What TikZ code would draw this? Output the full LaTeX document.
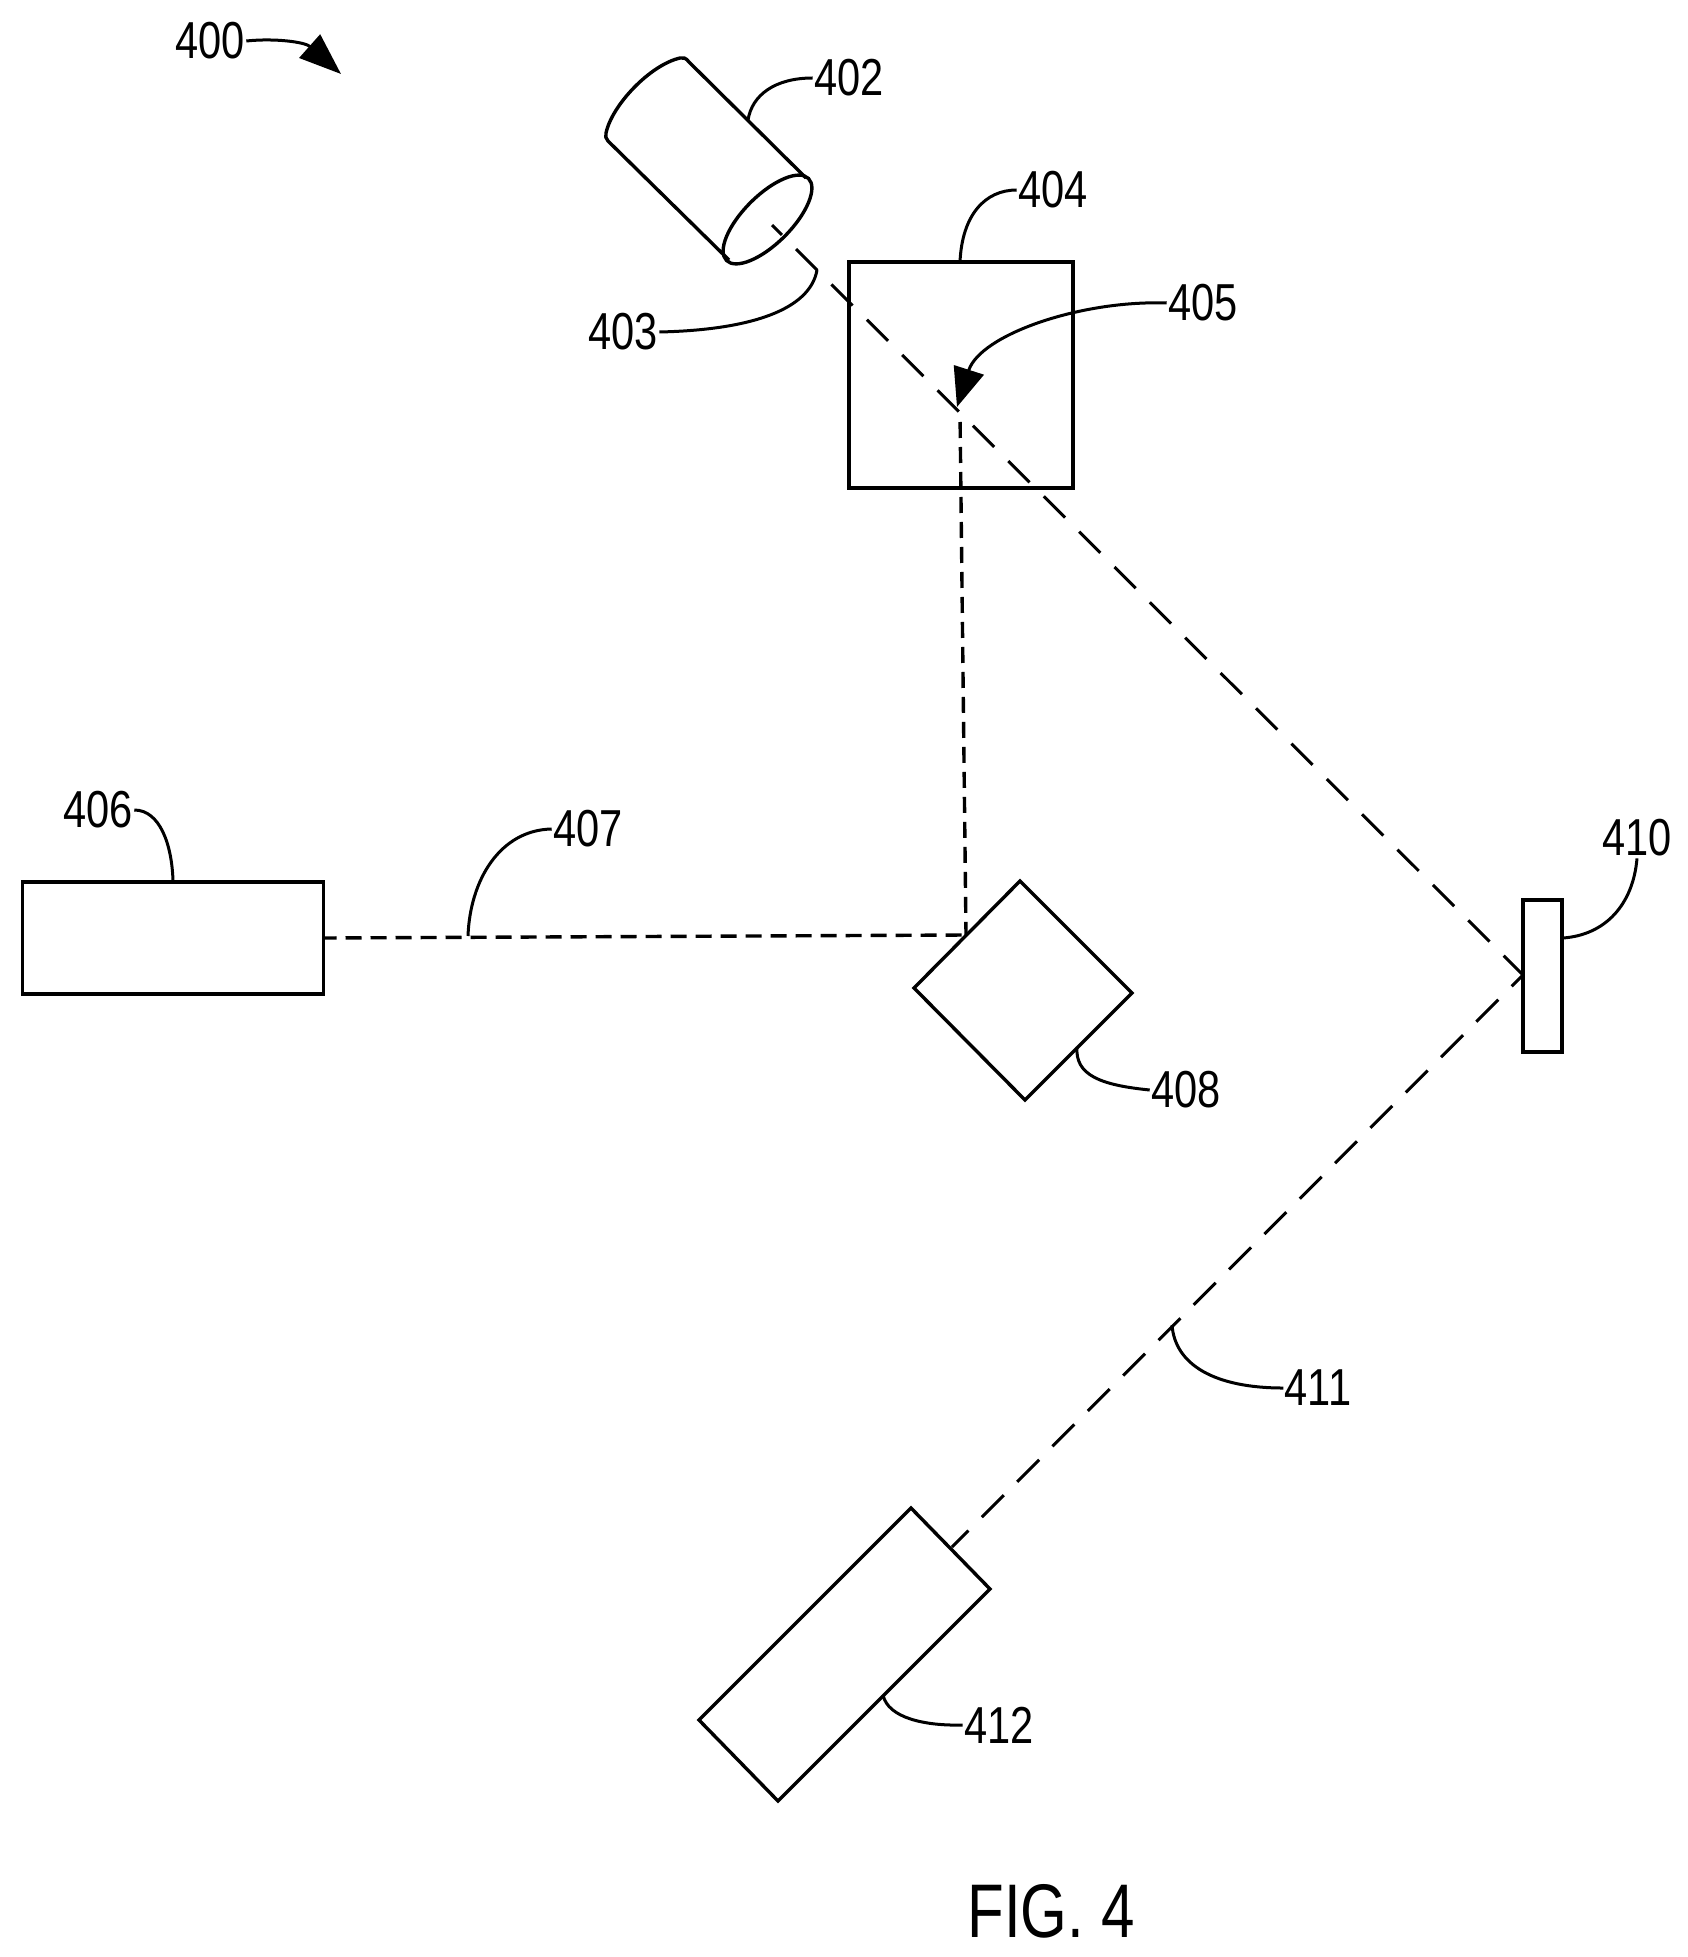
\documentclass[tikz,border=0pt]{standalone}
\usepackage{fontspec}
\setmainfont{Liberation Sans}
\usetikzlibrary{arrows.meta}
\tikzset{
  outline/.style={line width=1.7pt,line join=miter},
  boxnode/.style={draw,line width=1.7pt,inner sep=0pt,outer sep=0pt},
  leader/.style={line width=1.5pt},
  lbl/.style={font=\fontsize{26}{26}\selectfont,xscale=.8,transform shape,inner sep=1pt,outer sep=0pt},
  figlbl/.style={font=\fontsize{38}{38}\selectfont,xscale=.79,transform shape,inner sep=0pt},
  beamlong/.style={line width=1.5pt,dash pattern=on 15pt off 10pt},
  beamfold/.style={line width=1.5pt,dash pattern=on 15.5pt off 9.5pt},
  beamshort/.style={line width=1.7pt,dash pattern=on 8pt off 4.5pt},
  bighead/.style={-{Triangle[length=#1,width=15.5pt]}}
}
\begin{document}
\begin{tikzpicture}[x=.5pt,y=-.5pt]
\useasboundingbox (0,0) rectangle (1687,1957);
% component nodes
\node[boxnode,minimum width=112pt,minimum height=113pt] (b404) at (961,375) {};
\node[boxnode,minimum width=150.5pt,minimum height=56pt] (b406) at (173,938) {};
\node[boxnode,minimum width=19.5pt,minimum height=76pt] (b410) at (1542.5,976) {};
% corner and beam coordinates
\coordinate (cylTR) at (806,178);
\coordinate (cylBL) at (729,260);
\coordinate (cylC) at (767.5,219.5);
\coordinate (beamStart) at (772,225);
\coordinate (split) at (960,413);
\coordinate (mirror) at (1523,975);
\coordinate (d408T) at (1020,881);
\coordinate (d408R) at (1132,993);
\coordinate (d408B) at (1025,1100);
\coordinate (d408L) at (914,988);
\coordinate (foldPt) at (966,935);
\coordinate (r412T) at (911,1508);
\coordinate (r412R) at (990,1589);
\coordinate (r412B) at (778,1801);
\coordinate (r412L) at (699,1720);
\coordinate (camEnd) at (952,1547);
\coordinate (end402) at (748,120);
\coordinate (end403) at (817,270);
\coordinate (end404) at (960,262);
\coordinate (end405) at (957,407);
\coordinate (end400) at (341,74);
\coordinate (end406) at (173,881);
\coordinate (end407) at (468,936);
\coordinate (end408) at (1077,1047);
\coordinate (end410) at (1563,938);
\coordinate (end411) at (1172,1325);
\coordinate (end412) at (883,1695);
% cylinder 402
\draw[outline,line join=round] (cylTR) -- (689,62) .. controls (686,58) and (683,57) .. (680,58)
  .. controls (650,65) and (612,105) .. (606,133)
  .. controls (605,136) and (606,139) .. (608,141) -- (cylBL);
\draw[outline,rotate around={45:(cylC)}] (cylC) ellipse [x radius=29pt,y radius=12pt];
% diamond 408, rectangle 412
\draw[outline] (d408T) -- (d408R) -- (d408B) -- (d408L) -- cycle;
\draw[outline] (r412T) -- (r412R) -- (r412B) -- (r412L) -- cycle;
% beams
\draw[beamlong,dash phase=8pt] (beamStart) -- (mirror);
\draw[beamfold,dash phase=7.5pt] (mirror) -- (camEnd);
\draw[beamshort,dash phase=8pt] (split) -- (foldPt);
\draw[beamshort,dash phase=1.5pt] (b406.east |- 0,938) -- (foldPt);
% labels
\node[lbl] (l400) at (210,41) {400};
\node[lbl] (l402) at (849,78) {402};
\node[lbl] (l403) at (623,332) {403};
\node[lbl] (l404) at (1053,190) {404};
\node[lbl] (l405) at (1203,303) {405};
\node[lbl] (l406) at (98,810) {406};
\node[lbl] (l407) at (588,829) {407};
\node[lbl] (l408) at (1186,1090) {408};
\node[lbl] (l410) at (1637,838) {410};
\node[lbl] (l411) at (1318,1388) {411};
\node[lbl] (l412) at (999,1725) {412};
\node[figlbl] (fig) at (1051,1911) {FIG. 4};
% leaders
\draw[leader] (l402.west) .. controls (775,78) and (752,95) .. (end402);
\draw[leader] (l403.east) .. controls (750,330) and (810,310) .. (end403);
\draw[leader] (l404.west) .. controls (985,190) and (962,215) .. (end404);
\draw[leader] (l406.east) .. controls (160,810) and (172,845) .. (end406);
\draw[leader] (l407.west) .. controls (500,830) and (470,880) .. (end407);
\draw[leader] (l408.west) .. controls (1100,1085) and (1075,1075) .. (end408);
\draw[leader] (l410.south) .. controls (1633,905) and (1605,935) .. (end410);
\draw[leader] (l411.west) .. controls (1215,1388) and (1175,1365) .. (end411);
\draw[leader] (l412.west) .. controls (925,1726) and (888,1718) .. (end412);
\draw[leader,bighead=19.5pt] (l405.west) .. controls (1080,300) and (980,335) .. (end405);
\draw[leader,bighead=21pt] (l400.east) .. controls (275,38) and (305,42) .. (end400);
\end{tikzpicture}
\end{document}
